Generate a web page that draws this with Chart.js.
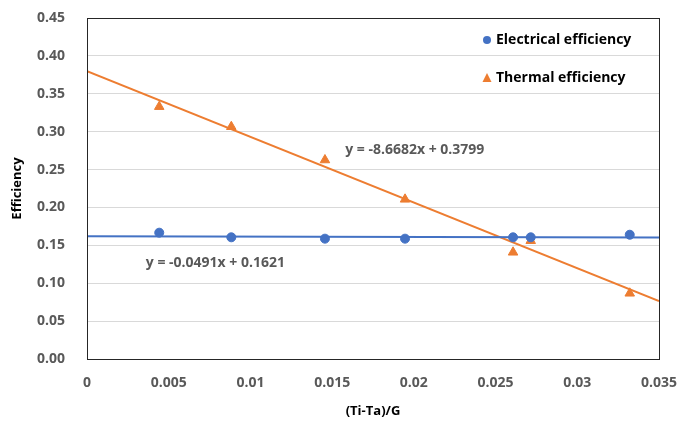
<!DOCTYPE html>
<html>
<head>
<meta charset="utf-8">
<script src="https://cdn.jsdelivr.net/npm/chart.js@4"></script>
<style>
  html, body { margin: 0; padding: 0; background: #fff; }
  #wrap { width: 682px; height: 421px; }
</style>
</head>
<body>
<div id="wrap"><canvas id="chart"></canvas></div>
<script>
// data
const xValues = [0.00442, 0.00883, 0.01456, 0.01946, 0.02607, 0.02715, 0.03321];
const electrical = [0.1667, 0.1606, 0.1588, 0.1588, 0.1606, 0.1606, 0.164];
const thermal = [0.333, 0.3065, 0.2626, 0.2107, 0.1408, 0.1561, 0.0867];

// trendlines as printed on the chart
const elecFit = { slope: -0.0491, intercept: 0.1621, label: "y = -0.0491x + 0.1621" };
const thermFit = { slope: -8.6682, intercept: 0.3799, label: "y = -8.6682x + 0.3799" };
const fitRange = [0, 0.035];

const xTicks = [0, 0.005, 0.01, 0.015, 0.02, 0.025, 0.03, 0.035];
const yTicks = [0, 0.05, 0.1, 0.15, 0.2, 0.25, 0.3, 0.35, 0.4, 0.45];

const BLUE = "#4472C4";
const ORANGE = "#ED7D31";
const GREY = "#595959";
const FONT = "'Open Sans', 'Liberation Sans', sans-serif";

const pts = (ys) => xValues.map((x, i) => ({ x: x, y: ys[i] }));
const fitLine = (f) => fitRange.map((x) => ({ x: x, y: f.slope * x + f.intercept }));

// no extra room for label overhang, layout padding decides the plot box
const noOverhang = (s) => {
  s.paddingTop = 0; s.paddingBottom = 0; s.paddingLeft = 0; s.paddingRight = 0;
};

// legend + equations drawn inside the plot area
const overlay = {
  id: "overlay",
  afterDraw(chart) {
    const ctx = chart.ctx;
    const xs = chart.scales.x, ys = chart.scales.y;
    ctx.save();
    ctx.font = "bold 14px " + FONT;
    ctx.textBaseline = "middle";

    // legend
    ctx.fillStyle = BLUE;
    ctx.beginPath();
    ctx.arc(487, 40, 4, 0, Math.PI * 2);
    ctx.fill();
    ctx.fillStyle = ORANGE;
    ctx.beginPath();
    ctx.moveTo(482.5, 82);
    ctx.lineTo(491.5, 82);
    ctx.lineTo(487, 73);
    ctx.closePath();
    ctx.fill();
    ctx.fillStyle = "#000";
    ctx.fillText("Electrical efficiency", 496, 40);
    ctx.fillText("Thermal efficiency", 496, 78);

    // equations
    ctx.fillStyle = GREY;
    ctx.fillText(thermFit.label, xs.getPixelForValue(0.0158), ys.getPixelForValue(0.2753));
    ctx.fillText(elecFit.label, xs.getPixelForValue(0.0036), ys.getPixelForValue(0.127));

    // plot border
    const a = chart.chartArea;
    ctx.strokeStyle = "#262626";
    ctx.lineWidth = 1;
    ctx.strokeRect(Math.round(a.left) + 0.5, Math.round(a.top) + 0.5,
      Math.round(a.right - a.left), Math.round(a.bottom - a.top));
    ctx.restore();
  }
};

new Chart(document.getElementById("chart"), {
  type: "scatter",
  data: {
    datasets: [
      {
        label: "Electrical efficiency",
        data: pts(electrical),
        backgroundColor: BLUE,
        borderColor: BLUE,
        pointStyle: "circle",
        pointRadius: 4.5,
        pointHoverRadius: 4.5,
        order: 1,
      },
      {
        label: "Thermal efficiency",
        data: pts(thermal),
        backgroundColor: ORANGE,
        borderColor: ORANGE,
        pointStyle: "triangle",
        pointRadius: 5.5,
        pointHoverRadius: 5.5,
        order: 1,
      },
      {
        label: "elec fit",
        data: fitLine(elecFit),
        showLine: true,
        borderColor: BLUE,
        borderWidth: 2,
        pointRadius: 0,
        order: 2,
      },
      {
        label: "therm fit",
        data: fitLine(thermFit),
        showLine: true,
        borderColor: ORANGE,
        borderWidth: 2,
        pointRadius: 0,
        order: 2,
      },
    ],
  },
  options: {
    responsive: true,
    maintainAspectRatio: false,
    animation: false,
    layout: { padding: { top: 18, right: 23, left: 0, bottom: 0 } },
    plugins: {
      legend: { display: false },
      tooltip: { enabled: false },
    },
    scales: {
      x: {
        type: "linear",
        min: 0,
        max: 0.035,
        afterBuildTicks: (s) => { s.ticks = xTicks.map((v) => ({ value: v })); },
        afterFit: (s) => { s.height = 62; noOverhang(s); },
        grid: { display: false, drawTicks: false },
        border: { display: false },
        ticks: {
          color: GREY,
          padding: 16,
          maxRotation: 0,
          font: { family: FONT, size: 14, weight: "bold" },
          callback: (v) => String(+v.toFixed(3)),
        },
        title: {
          display: true,
          text: "(Ti-Ta)/G",
          color: "#000",
          padding: { top: 0, bottom: 2 },
          font: { family: FONT, size: 13, weight: "bold" },
        },
      },
      y: {
        type: "linear",
        min: 0,
        max: 0.45,
        afterBuildTicks: (s) => { s.ticks = yTicks.map((v) => ({ value: v })); },
        afterFit: (s) => { s.width = 87; noOverhang(s); },
        grid: { color: "#D9D9D9", lineWidth: 1, drawTicks: false },
        border: { display: false },
        ticks: {
          color: GREY,
          padding: 22,
          font: { family: FONT, size: 14, weight: "bold" },
          callback: (v) => v.toFixed(2),
        },
        title: {
          display: true,
          text: "Efficiency",
          color: "#000",
          padding: { top: 9, bottom: 0 },
          font: { family: FONT, size: 13, weight: "bold" },
        },
      },
    },
  },
  plugins: [overlay],
});
</script>
</body>
</html>
